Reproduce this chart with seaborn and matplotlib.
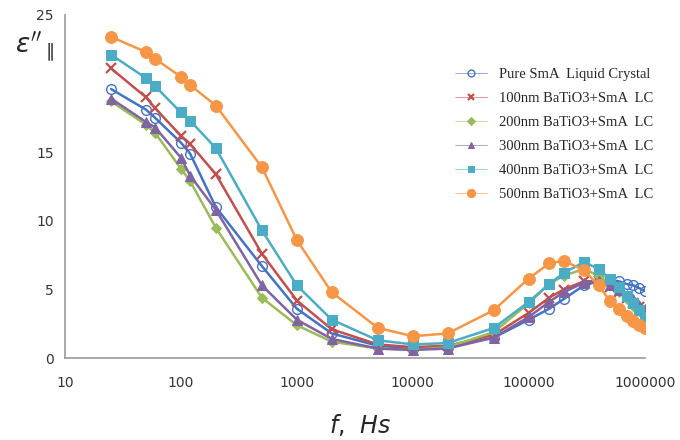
import numpy as np
import pandas as pd
import matplotlib
matplotlib.use('Agg')
import matplotlib.pyplot as plt
import seaborn as sns

# frequency points (Hz)
freq = [25, 50, 60, 100, 120, 200, 500, 1000, 2000, 5000, 10000, 20000, 50000,
        100000, 150000, 200000, 300000, 400000, 500000, 600000, 700000, 800000,
        900000, 1000000]

pure_sma = [19.6, 18.1, 17.5, 15.7, 14.9, 11.0, 6.7, 3.6, 1.8, 0.9, 0.7, 0.8, 1.5,
            2.8, 3.6, 4.3, 5.3, 5.6, 5.7, 5.6, 5.4, 5.3, 5.1, 4.9]
nm100 = [21.1, 19.0, 18.2, 16.2, 15.6, 13.4, 7.6, 4.2, 2.1, 1.0, 0.8, 0.9, 1.7,
         3.3, 4.4, 5.0, 5.6, 5.6, 5.2, 4.8, 4.4, 4.0, 3.7, 3.4]
nm200 = [18.7, 17.0, 16.4, 13.8, 12.9, 9.5, 4.4, 2.4, 1.2, 0.7, 0.6, 0.8, 1.9,
         4.0, 5.4, 6.0, 6.5, 6.0, 5.4, 4.8, 4.3, 3.8, 3.4, 3.0]
nm300 = [18.9, 17.2, 16.8, 14.6, 13.3, 10.8, 5.3, 2.8, 1.4, 0.7, 0.6, 0.7, 1.5,
         3.0, 4.1, 4.8, 5.5, 5.6, 5.3, 5.0, 4.6, 4.3, 3.9, 3.6]
nm400 = [22.1, 20.4, 19.8, 17.9, 17.3, 15.3, 9.3, 5.3, 2.8, 1.3, 1.0, 1.1, 2.2,
         4.1, 5.4, 6.2, 7.0, 6.5, 5.8, 5.2, 4.5, 4.0, 3.5, 3.0]
nm500 = [23.4, 22.3, 21.8, 20.5, 19.9, 18.4, 13.9, 8.6, 4.8, 2.2, 1.6, 1.8, 3.5,
         5.8, 6.9, 7.1, 6.4, 5.3, 4.2, 3.6, 3.1, 2.7, 2.4, 2.2]

labels = ['Pure SmA  Liquid Crystal', '100nm BaTiO3+SmA  LC', '200nm BaTiO3+SmA  LC',
          '300nm BaTiO3+SmA  LC', '400nm BaTiO3+SmA  LC', '500nm BaTiO3+SmA  LC']
series = [pure_sma, nm100, nm200, nm300, nm400, nm500]
colors = ['#4472C4', '#C0504D', '#9BBB59', '#8064A2', '#4BACC6', '#F79646']
markers = ['o', 'x', 'D', '^', 's', 'o']
msizes = [7, 6.5, 5.5, 7, 7, 8.5]

sns.set_style('white')
fig, ax = plt.subplots(figsize=(6.8, 4.4), dpi=100)
fig.subplots_adjust(left=0.0956, right=0.948, bottom=0.186, top=0.966)

for lab, vals, c, m, ms in zip(labels, series, colors, markers, msizes):
    df = pd.DataFrame({'f': freq, 'eps': vals})
    if lab.startswith('Pure'):
        sns.lineplot(data=df, x='f', y='eps', ax=ax, color=c, lw=1.8, marker=m,
                     markersize=ms, markerfacecolor='none', markeredgecolor=c,
                     markeredgewidth=1.0, label=lab)
    elif m == 'x':
        sns.lineplot(data=df, x='f', y='eps', ax=ax, color=c, lw=1.8, marker=m,
                     markersize=ms, markeredgecolor=c, markeredgewidth=1.6, label=lab)
    else:
        sns.lineplot(data=df, x='f', y='eps', ax=ax, color=c, lw=1.8, marker=m,
                     markersize=ms, markeredgecolor=c, label=lab)

ax.set_xscale('log')
ax.set_xlim(10, 1000000)
ax.set_ylim(0, 25)
ax.set_xticks([10, 100, 1000, 10000, 100000, 1000000])
ax.set_xticklabels(['10', '100', '1000', '10000', '100000', '1000000'])
ax.minorticks_off()
ax.set_yticks([0, 5, 10, 15, 20, 25])
ax.set_yticklabels(['0', '5', '10', '15', '', '25'])
ax.tick_params(axis='both', direction='out', length=5, color='#999999',
               labelsize=10, labelcolor='#333333', pad=8)
ax.tick_params(axis='y', length=4, pad=4)

for s in ['top', 'right']:
    ax.spines[s].set_visible(False)
for s in ['left', 'bottom']:
    ax.spines[s].set_color('#999999')
    ax.spines[s].set_linewidth(1.2)

ax.set_xlabel('')
ax.set_ylabel('')
fig.text(0.53, 0.035, '$f$,  $Hs$', fontsize=17, ha='center', va='center')
fig.text(0.05, 0.895, r"$\varepsilon''_{\parallel}$", fontsize=19, ha='center', va='center')

leg = ax.legend(loc='upper left', bbox_to_anchor=(0.65, 0.885), frameon=False,
                prop={'family': 'Liberation Serif', 'size': 10.5},
                handlelength=2.2, labelspacing=0.75, markerscale=0.7)
for line in leg.get_lines():
    line.set_linewidth(0.4)

fig.savefig('out.png', dpi=100)
